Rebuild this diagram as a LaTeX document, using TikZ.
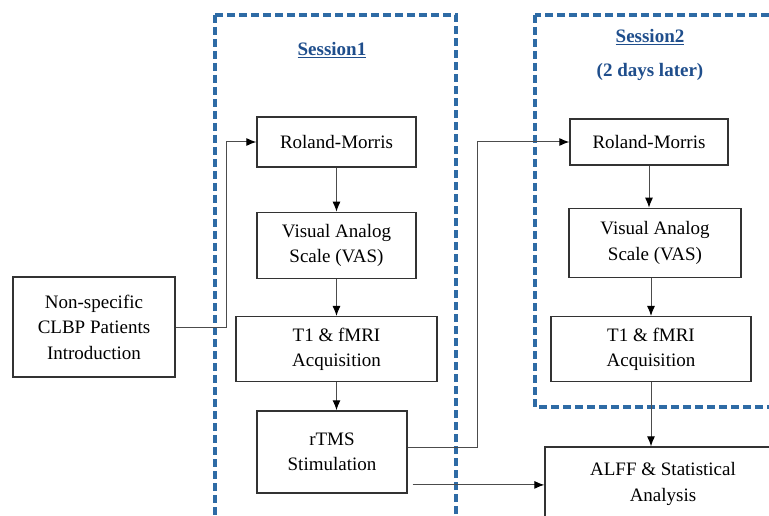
\documentclass[tikz,border=0pt]{standalone}
\usepackage{fontspec}
\setmainfont{Liberation Serif}
\usetikzlibrary{positioning,arrows.meta}
\definecolor{sessblue}{HTML}{2E6BA5}
\definecolor{titleblue}{HTML}{1F4E8C}
\newcommand{\boxfont}{\fontsize{19}{25.5}\selectfont}
\newcommand{\titlefont}{\fontsize{19}{25}\selectfont\bfseries\color{titleblue}}
\tikzset{box/.style={draw=black!80, line width=1.3pt, align=center, font=\boxfont, inner sep=0pt},
	sess/.style={draw=sessblue, line width=3.4pt, dash pattern=on 8pt off 4pt},
	link/.style={draw=black!70, line width=1pt, -{Latex[length=10pt,width=8pt,color=black]}},
	title/.style={font=\titlefont, inner sep=0pt}}

\begin{document}
\begin{tikzpicture}[x=1pt,y=-1pt]
				\useasboundingbox (0,0) rectangle (769,516);
				\clip (0,0) rectangle (769,516);
				\fill[white] (0,0) rectangle (769,516);

				% the two sessions
				\draw[sess] (215,15) rectangle (456,540);
				\draw[sess] (535,15) rectangle (800,407);
				\node[title] (s1) at (332,50) {\underline{Session1}};
				\node[title] (s2) at (650,37) {\underline{Session2}};
				\node[title] (s2b) at (650,72) {(2 days later)};

				\node[box, minimum width=162, minimum height=100] (pat) at (94,327) {Non-specific\\CLBP Patients\\Introduction};

				% session 1
				\node[box, minimum width=159, minimum height=50] (rm1) at (336.5,142) {Roland-Morris};
				\node[box, minimum width=159, minimum height=66] (vas1) [below=44pt of rm1] {Visual Analog\\Scale (VAS)};
				\node[box, minimum width=201, minimum height=65] (t1a) [below=37pt of vas1] {T1 \& fMRI\\Acquisition};
				\node[box, minimum width=150, minimum height=82] (rtms1) [below=28pt of t1a, xshift=-4.5pt] {rTMS\\Stimulation};

				% session 2
				\node[box, minimum width=158, minimum height=46] (rm2) at (649,142) {Roland-Morris};
				\node[box, minimum width=172, minimum height=69] (vas2) [below=42pt of rm2, xshift=6pt] {Visual Analog\\Scale (VAS)};
				\node[box, minimum width=200, minimum height=65] (t1b) [below=38pt of vas2, xshift=-4pt] {T1 \& fMRI\\Acquisition};
				\node[box, minimum width=236, minimum height=74] (alff) at (663,484) {ALFF \& Statistical\\Analysis};

				\coordinate (r2) at ([xshift=5pt,yshift=-33pt]rtms1.east);

				\path[link]
				(pat.east) -- ++(51,0) |- (rm1.west);
				\path[link] (rm1) -- (vas1);
				\path[link] (vas1) -- (t1a);
				\path[link] (t1a.south) -- (t1a.south |- rtms1.north);
				\path[link] ([yshift=4pt]rtms1.east) -- ++(70,0) |- (rm2.west);
				\path[link] (r2) -- (r2 -| alff.west);
				\path[link] (rm2.south) -- (rm2.south |- vas2.north);
				\path[link] (t1b |- vas2.south) -- (t1b.north);
				\path[link] (t1b.south) -- (t1b.south |- alff.north);
			\end{tikzpicture}
\end{document}
